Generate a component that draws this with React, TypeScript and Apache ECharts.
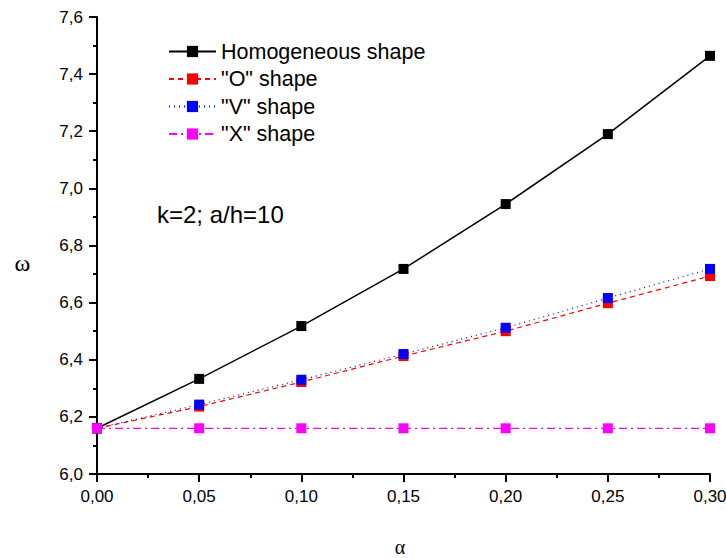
import React, { useEffect, useRef } from "react";
import * as echarts from "echarts";

const alphaValues = [0, 0.05, 0.1, 0.15, 0.2, 0.25, 0.3];
const homogeneous = [6.16, 6.333, 6.518, 6.718, 6.945, 7.19, 7.464];
const oShape = [6.16, 6.236, 6.322, 6.413, 6.5, 6.598, 6.693];
const vShape = [6.16, 6.243, 6.33, 6.42, 6.512, 6.616, 6.718];
const xShape = [6.16, 6.16, 6.16, 6.16, 6.16, 6.16, 6.16];
const seriesNames = ["Homogeneous shape", '"O" shape', '"V" shape', '"X" shape'];

const pairs = (ys: number[]) => alphaValues.map((x, i) => [x, ys[i]]);

export default function App() {
  const ref = useRef<HTMLDivElement>(null);
  useEffect(() => {
    document.body.style.margin = "0";
    if (!ref.current) return;
    const chart = echarts.init(ref.current, null, { renderer: "svg" });
    const font = "Arial, 'Liberation Sans', sans-serif";
    const serif = "'Times New Roman', 'Liberation Serif', 'DejaVu Serif', serif";
    const mk = (name: string, data: number[], color: string, type: any, width: number) => ({
      name,
      type: "line",
      data: pairs(data),
      symbol: "rect",
      symbolSize: 10,
      itemStyle: { color },
      lineStyle: { color, type, width },
      emphasis: { disabled: true },
    });
    chart.setOption({
      animation: false,
      backgroundColor: "#fff",
      grid: { left: 97, right: 16, top: 17, bottom: 84, outerBoundsMode: "none", containLabel: false },
      legend: {
        orient: "vertical",
        left: 168,
        top: 40.5,
        padding: 0,
        itemWidth: 47,
        itemHeight: 14,
        itemGap: 5.5,
        textStyle: { fontFamily: font, fontSize: 21.5, color: "#000", lineHeight: 21 },
        data: seriesNames,
      },
      xAxis: {
        type: "value",
        min: 0,
        max: 0.3,
        interval: 0.05,
        axisLine: { lineStyle: { color: "#000", width: 2 } },
        axisTick: { show: true, length: 8, lineStyle: { color: "#000", width: 2 } },
        minorTick: { show: true, splitNumber: 2, length: 4, lineStyle: { color: "#000", width: 2 } },
        axisLabel: {
          fontFamily: font,
          fontSize: 17,
          color: "#000",
          margin: 14,
          formatter: (v: number) => v.toFixed(2).replace(".", ","),
        },
        splitLine: { show: false },
      },
      yAxis: {
        type: "value",
        min: 6.0,
        max: 7.6,
        interval: 0.2,
        axisLine: { show: true, lineStyle: { color: "#000", width: 2 } },
        axisTick: { show: true, length: 8, lineStyle: { color: "#000", width: 2 } },
        minorTick: { show: true, splitNumber: 2, length: 4, lineStyle: { color: "#000", width: 2 } },
        axisLabel: {
          fontFamily: font,
          fontSize: 17,
          color: "#000",
          margin: 14,
          formatter: (v: number) => v.toFixed(1).replace(".", ","),
        },
        splitLine: { show: false },
      },
      graphic: [
        {
          type: "text",
          x: 157,
          y: 214,
          style: { text: "k=2; a/h=10", font: `24px ${font}`, fill: "#000", verticalAlign: "middle" },
        },
        {
          type: "text",
          x: 22.5,
          y: 263,
          style: { text: "ω", font: `24px ${serif}`, fill: "#000", align: "center", verticalAlign: "middle" },
        },
        {
          type: "text",
          x: 400,
          y: 557,
          style: { text: "α", font: `20px ${serif}`, fill: "#000", align: "center", verticalAlign: "bottom" },
        },
      ],
      series: [
        mk(seriesNames[0], homogeneous, "#000000", "solid", 1.5),
        mk(seriesNames[1], oShape, "#ff0000", [5, 4], 1.2),
        mk(seriesNames[2], vShape, "#0000ff", [1, 4], 1.2),
        mk(seriesNames[3], xShape, "#ff00ff", [8, 4, 2, 4], 1.2),
      ],
    });
    return () => chart.dispose();
  }, []);
  return <div ref={ref} style={{ width: 726, height: 558 }} />;
}
